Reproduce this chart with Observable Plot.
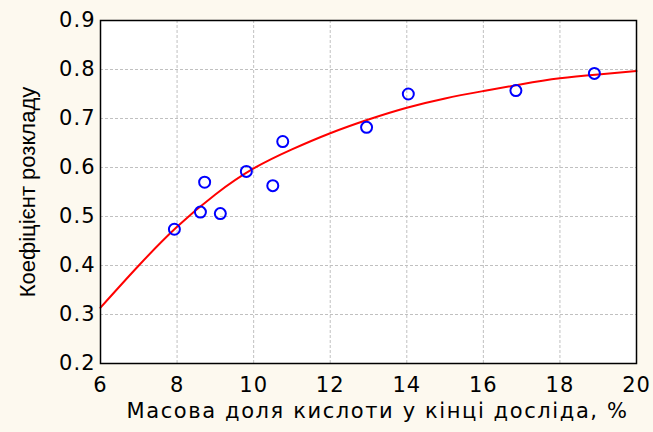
<!DOCTYPE html>
<html>
<head>
<meta charset="utf-8">
<script src="https://cdn.jsdelivr.net/npm/d3@7"></script>
<script src="https://cdn.jsdelivr.net/npm/@observablehq/plot@0.6"></script>
<style>
  html, body { margin: 0; padding: 0; background: #fdf9ef; }
  #chart { width: 653px; height: 432px; }
  .xt text, .yt text { letter-spacing: 1px; }
  .xl text { letter-spacing: 1.6px; }
</style>
</head>
<body>
<div id="chart"></div>
<script>
// Observed points
const pointX = [7.93, 8.61, 8.72, 9.13, 9.81, 10.50, 10.76, 12.95, 14.04, 16.85, 18.90];
const pointY = [0.474, 0.509, 0.570, 0.506, 0.592, 0.563, 0.653, 0.682, 0.750, 0.757, 0.792];

// Fitted curve
const curveX = [6, 7, 8, 9, 10, 11, 12, 13, 14, 15, 16, 17, 18, 19, 20];
const curveY = [0.314, 0.400, 0.479, 0.545, 0.598, 0.637, 0.670, 0.698, 0.722, 0.741, 0.756, 0.770, 0.782, 0.790, 0.797];

// Ticks and labels
const xTicks = [6, 8, 10, 12, 14, 16, 18, 20];
const yTicks = [0.2, 0.3, 0.4, 0.5, 0.6, 0.7, 0.8, 0.9];
const xLabel = "Масова доля кислоти у кінці досліда, %";
const yLabel = "Коефіцієнт розкладу";

const points = pointX.map((x, i) => ({x, y: pointY[i]}));
const curve = curveX.map((x, i) => ({x, y: curveY[i]}));

const wide = "'DejaVu Sans', sans-serif";

const chart = Plot.plot({
  width: 653,
  height: 432,
  marginLeft: 100,
  marginRight: 17,
  marginTop: 20,
  marginBottom: 69,
  style: {background: "#fdf9ef", fontFamily: "'Liberation Sans', Arial, sans-serif", fontSize: "20px", color: "#000"},
  x: {domain: [6, 20]},
  y: {domain: [0.2, 0.9]},
  marks: [
    Plot.frame({fill: "white", stroke: "none"}),
    Plot.gridX(xTicks, {stroke: "#c0c0c0", strokeOpacity: 1, strokeDasharray: "3,2"}),
    Plot.gridY(yTicks, {stroke: "#c0c0c0", strokeOpacity: 1, strokeDasharray: "3,2"}),
    Plot.line(curve, {x: "x", y: "y", stroke: "#ff0000", strokeWidth: 2, curve: "natural"}),
    Plot.dot(points, {x: "x", y: "y", r: 5.5, stroke: "#0000ff", strokeWidth: 2, fill: "none"}),
    Plot.frame({stroke: "#000", strokeWidth: 1.5}),
    Plot.axisX(xTicks, {tickSize: 0, tickPadding: 14, fontSize: 21, fontFamily: wide, className: "xt", label: null}),
    Plot.axisY(yTicks, {tickSize: 0, tickPadding: 5, fontSize: 21, fontFamily: wide, className: "yt", tickFormat: d3.format(".1f"), label: null}),
    Plot.text([xLabel], {frameAnchor: "bottom", dy: 54, dx: 9, text: d => d, fontSize: 21, fontFamily: wide, className: "xl"}),
    Plot.text([yLabel], {frameAnchor: "left", dx: -73, rotate: -90, textAnchor: "middle", text: d => d, fontSize: 22})
  ]
});
document.getElementById("chart").appendChild(chart);
</script>
</body>
</html>
